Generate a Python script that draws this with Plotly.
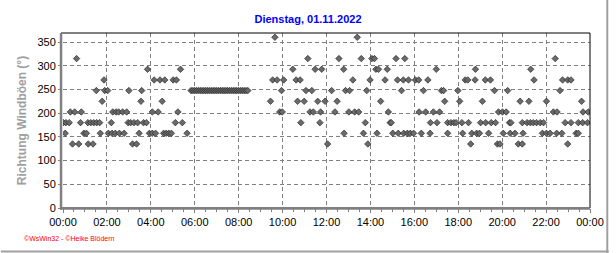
import plotly.graph_objects as go

DATE = "2022-11-01"
NEXT_DATE = "2022-11-02"
TITLE = "Dienstag, 01.11.2022"
Y_TITLE = "Richtung Windböen (°)"
FOOTER = "©WsWin32 - ©Heike Blödern"
X_TICK_STEP_H = 2
Y_RANGE = [0, 369]

levels = [360, 315, 292.5, 270, 247.5, 225, 202.5, 180, 157.5, 135]

t_360 = ["09:39", "13:24"]
t_315 = ["00:37", "11:09", "12:34", "13:35", "14:04", "14:11", "15:10", "15:34", "22:25"]
t_292 = ["03:51", "05:21", "10:28", "11:29", "11:47", "12:47", "14:15", "14:22", "14:46",
         "17:00", "18:47", "21:18"]
t_270 = ["01:52", "04:09", "04:25", "04:38", "05:01", "05:10", "09:33", "09:45", "10:03",
         "10:37", "10:48", "13:12", "13:59", "14:40", "15:14", "15:30", "15:44", "16:03",
         "16:12", "16:37", "18:19", "18:26", "18:46", "19:14", "19:28", "21:27", "22:45",
         "22:59", "23:08"]
t_247 = ["01:31", "01:54", "02:02", "03:00", "03:35",
         "05:50", "05:55", "06:00", "06:05", "06:10", "06:15", "06:20", "06:25", "06:30",
         "06:35", "06:40", "06:45", "06:50", "06:55", "07:00", "07:05", "07:10", "07:15",
         "07:20", "07:25", "07:30", "07:35", "07:40", "07:45", "07:50", "07:55", "08:00",
         "08:05", "08:10", "08:15", "08:20", "08:25",
         "09:57", "11:04", "11:20", "12:14", "12:52", "13:03", "13:50", "15:25", "16:25",
         "17:14", "17:20", "17:59", "19:39", "20:15", "22:38"]
t_225 = ["01:47", "03:33", "04:31", "09:27", "10:41", "10:59", "11:36", "11:56", "12:29",
         "14:28", "17:23", "18:04", "19:06", "20:49", "21:13", "22:01", "23:37"]
t_202 = ["00:20", "00:32", "00:50", "02:16", "02:25", "02:32", "02:43", "02:54", "04:04",
         "04:20", "05:14", "09:52", "09:59", "11:15", "11:24", "11:44", "12:23", "13:01",
         "13:17", "13:28", "14:49", "16:13", "16:31", "16:52", "17:09", "19:50", "20:01",
         "20:11", "22:20", "22:30", "23:41", "23:55"]
t_180 = ["00:01", "00:08", "00:17", "00:48", "01:08", "01:16", "01:24", "01:32", "01:40",
         "02:12", "02:58", "03:05", "03:14", "03:24", "03:40", "03:48", "05:07", "05:26",
         "10:50", "11:42", "13:46", "14:54", "14:57", "16:44", "17:02", "17:31", "17:40",
         "17:48", "17:54", "18:10", "18:28", "19:01", "19:15", "19:30", "19:42", "20:20",
         "20:24", "20:55", "21:08", "21:17", "21:25", "21:34", "21:44", "21:53", "22:52",
         "23:08", "23:28", "23:40", "23:53"]
t_157 = ["00:06", "00:57", "01:04", "01:42", "02:04", "02:14", "02:23", "02:34", "02:47",
         "03:28", "03:56", "04:04", "04:13", "04:35", "04:42", "04:49", "04:56", "05:39",
         "12:48", "13:41", "14:18", "15:01", "15:16", "15:31", "15:41", "15:49", "15:58",
         "16:19", "16:43", "17:31", "18:12", "18:37", "18:50", "18:58", "19:23", "20:03",
         "20:22", "20:35", "20:57", "21:50", "22:01", "22:11", "22:29", "22:43", "23:22",
         "23:28"]
t_135 = ["00:26", "00:43", "01:09", "01:22", "03:10", "03:21", "12:03", "13:53", "18:34",
         "19:47", "19:54", "20:44", "20:55", "22:59"]

time_lists = [t_360, t_315, t_292, t_270, t_247, t_225, t_202, t_180, t_157, t_135]

xs, ys = [], []
for lvl, ts in zip(levels, time_lists):
    for t in ts:
        xs.append(f"{DATE} {t}")
        ys.append(lvl)

W, H = 616, 253
L, R, T, B = 63, 19, 33, 45
PW, PH = W - L - R, H - T - B


def px(xpix):
    return (xpix - L) / PW


def py(ypix):
    return (H - B - ypix) / PH


fig = go.Figure()
fig.add_trace(go.Scatter(
    x=xs, y=ys, mode="markers",
    marker=dict(symbol="diamond", size=5, color="#6a6a6a",
                line=dict(color="#1a1a1a", width=0.6)),
    hoverinfo="skip", showlegend=False,
))

grid = "#808080"
fig.update_layout(
    width=W, height=H,
    margin=dict(l=L, r=R, t=T, b=B, pad=0),
    paper_bgcolor="white", plot_bgcolor="white",
    font=dict(family="Arial, Liberation Sans, sans-serif", size=11, color="black"),
    title=dict(text=TITLE, x=0.5, xref="container", xanchor="center",
               y=1 - 19 / H, yref="container", yanchor="middle",
               font=dict(size=11, color="#0000ff", weight="bold")),
    xaxis=dict(
        type="date",
        range=[f"{DATE} 00:00", f"{NEXT_DATE} 00:00"],
        tick0=f"{DATE} 00:00", dtick=X_TICK_STEP_H * 3600000,
        tickformat="%H:%M",
        showgrid=True, gridcolor=grid, gridwidth=1, griddash="4px,3px",
        ticks="outside", ticklen=4, tickcolor=grid,
        minor=dict(dtick=1800000, ticks="outside", ticklen=3, tickcolor=grid, showgrid=False),
        showline=False, zeroline=False,
        tickfont=dict(size=11, color="black"),
    ),
    yaxis=dict(
        range=Y_RANGE, tick0=0, dtick=50,
        showgrid=True, gridcolor=grid, gridwidth=1, griddash="4px,3px",
        ticks="outside", ticklen=4, tickcolor=grid,
        minor=dict(dtick=25, ticks="outside", ticklen=2, tickcolor=grid, showgrid=False),
        showline=False, zeroline=False,
        tickfont=dict(size=11, color="black"),
        title=dict(text=Y_TITLE, standoff=8,
                   font=dict(size=12, color="#a0a0a0", weight="bold")),
    ),
)

shapes = [
    dict(type="rect", xref="paper", yref="paper", x0=px(61), x1=1, y0=0, y1=1,
         line=dict(color="black", width=1)),
    dict(type="line", xref="paper", yref="paper", x0=px(61), x1=px(61), y0=py(209.5), y1=1,
         line=dict(color="#808080", width=2.5)),
    dict(type="line", xref="paper", yref="paper", x0=px(60), x1=1, y0=py(208.5), y1=py(208.5),
         line=dict(color="#808080", width=2.5)),
    dict(type="line", xref="paper", yref="paper", x0=px(614.5), x1=px(614.5), y0=py(0), y1=py(253),
         line=dict(color="#a0a0a0", width=2)),
    dict(type="line", xref="paper", yref="paper", x0=px(0), x1=px(616), y0=py(251.5), y1=py(251.5),
         line=dict(color="#a0a0a0", width=2)),
]
fig.update_layout(shapes=shapes)

fig.add_annotation(text=FOOTER, xref="paper", yref="paper", x=px(21), y=py(238),
                   xanchor="left", yanchor="middle", showarrow=False,
                   font=dict(size=7, color="#ff0000", family="Arial, Liberation Sans, sans-serif"))

fig.write_html("out.html")
